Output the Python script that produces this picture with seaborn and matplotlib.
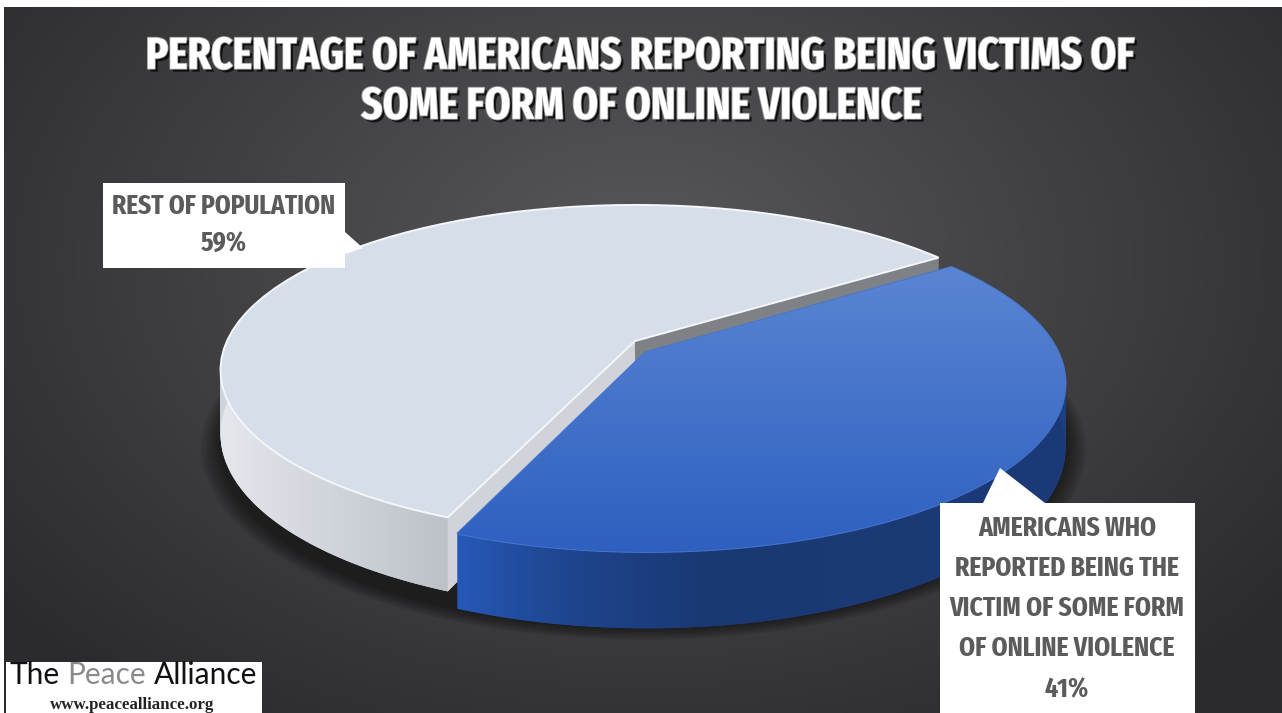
import numpy as np
import matplotlib
matplotlib.use("Agg")
import matplotlib.pyplot as plt
import matplotlib.patheffects as pe
from matplotlib.patches import Polygon, Rectangle, Ellipse
from matplotlib.transforms import Transform
from matplotlib.colors import to_rgb
from matplotlib import font_manager
import seaborn as sns

# ---------------- data ----------------
categories = ["REST OF POPULATION",
              "AMERICANS WHO REPORTED BEING THE VICTIM OF SOME FORM OF ONLINE VIOLENCE"]
values = [59, 41]
pct_labels = ["59%", "41%"]
rest_label_lines = ["REST OF POPULATION"]
victim_label_lines = ["AMERICANS WHO", "REPORTED BEING THE", "VICTIM OF SOME FORM", "OF ONLINE VIOLENCE"]
title_lines = ["PERCENTAGE OF AMERICANS REPORTING BEING VICTIMS OF",
               "SOME FORM OF ONLINE VIOLENCE"]
logo_words = ["The", "Peace", "Alliance"]
logo_url = "www.peacealliance.org"

sns.set_theme(style="white")


def pick(fams):
    for f in fams:
        try:
            font_manager.findfont(font_manager.FontProperties(family=f), fallback_to_default=False)
            return f
        except Exception:
            pass
    return "DejaVu Sans"


def find_condensed_bold():
    best, best_score = None, -1e9
    for f in font_manager.fontManager.ttflist:
        fn = (f.fname + " " + f.name).lower().replace(" ", "").replace("-", "").replace("_", "")
        if "italic" in fn or "oblique" in fn:
            continue
        if "extracondensed" in fn or "ultracondensed" in fn:
            lvl = 3
        elif "semicondensed" in fn:
            lvl = 1
        elif "condensed" in fn or "narrow" in fn:
            lvl = 2
        else:
            continue
        w = f.weight
        if isinstance(w, str):
            w = font_manager.weight_dict.get(w, 400)
        score = lvl * 100 - abs(w - 700) / 2
        if score > best_score:
            best, best_score = f, score
    if best is None:
        return font_manager.FontProperties(family="DejaVu Sans", weight="bold")
    return font_manager.FontProperties(fname=best.fname)


FP = find_condensed_bold()
LOGO = pick(["Lato", "Open Sans", "DejaVu Sans"])
SERIF = pick(["Liberation Serif", "DejaVu Serif"])
plt.rcParams["font.family"] = ["DejaVu Sans"]

W, H = 1282, 713
fig = plt.figure(figsize=(W / 100, H / 100), dpi=100)
renderer = fig.canvas.get_renderer()

# ---------------- background ----------------
bg = fig.add_axes([0, 0, 1, 1])
bg.set_axis_off()
yy, xx = np.mgrid[0:H, 0:W]
r = np.clip(np.sqrt(((xx - 640) / 820.0) ** 2 + ((yy - 260) / 560.0) ** 2), 0, 1)
c0 = np.array(to_rgb("#58585a"))
c1 = np.array(to_rgb("#2b2b2d"))
img = c0[None, None, :] * (1 - r[..., None]) + c1[None, None, :] * r[..., None]
bg.imshow(img, extent=(0, W, H, 0), aspect="auto", interpolation="bilinear")
bg.set_xlim(0, W)
bg.set_ylim(H, 0)


# ---------------- perspective pie ----------------
class Persp(Transform):
    """Ground plane (unit-radius pie) -> screen pixels with perspective."""
    input_dims = 2
    output_dims = 2
    is_separable = False
    has_inverse = False

    def __init__(self, dz=0.0, X0=635.0, Y0=341.0, Sx=408.0, Sy=160.0, p=0.176):
        super().__init__()
        self._dz, self._X0, self._Y0, self._Sx, self._Sy, self._p = dz, X0, Y0, Sx, Sy, p

    def transform_non_affine(self, values):
        v = np.asarray(values, dtype=float)
        shp = v.shape
        v = v.reshape(-1, 2)
        w = 1.0 + self._p * v[:, 1]
        x = self._X0 + self._Sx * v[:, 0] / w
        y = self._Y0 - self._Sy * v[:, 1] / w + self._dz / w
        return np.column_stack([x, y]).reshape(shp)


ax = fig.add_axes([0, 0, 1, 1])
D0 = 62.0
start = 35
blue_off = (0.025, -0.07)
light_top, light_side, gray_face, light_face2 = "#d6deea", "#cfd3da", "#7e8185", "#d0d4da"
blue_top, blue_side = "#3366c4", "#1d4082"

# soft shadow under the pie
for i in range(8):
    e = Ellipse((0.02, -0.03), 2.12 - i * 0.012, 2.12 - i * 0.012,
                facecolor="black", alpha=0.07, linewidth=0, zorder=0.5)
    ax.add_patch(e)
    e.set_transform(Persp(dz=D0 + 5) + ax.transData)

# extruded layers (bottom first)
for k in np.arange(D0, 0, -1.0):
    wl, _ = ax.pie(values, startangle=start, radius=1,
                   colors=[light_side, blue_side], wedgeprops=dict(linewidth=0))
    wl[1].set_center(blue_off)
    tr = Persp(dz=k) + ax.transData
    for wdg, z in zip(wl, (1, 4)):
        wdg.set_transform(tr)
        wdg.set_zorder(z)

# top faces
wt, _ = ax.pie(values, startangle=start, radius=1,
               colors=[light_top, blue_top], wedgeprops=dict(linewidth=1.4))
wt[1].set_center(blue_off)
top_tr = Persp(dz=0) + ax.transData
for wdg in wt:
    wdg.set_transform(top_tr)
wt[0].set_edgecolor("#f4f6fa")
wt[0].set_zorder(3)
wt[1].set_edgecolor("#4676cf")
wt[1].set_zorder(5)

P_top = Persp(dz=0)
P_bot = Persp(dz=D0)


def radial_face(center, theta):
    c = np.array(center, float)
    e = c + [np.cos(np.deg2rad(theta)), np.sin(np.deg2rad(theta))]
    pts = np.array([c, e])
    return np.vstack([P_top.transform(pts), P_bot.transform(pts)[::-1]])


# cut faces of the light slice
ax.add_patch(Polygon(radial_face((0, 0), wt[0].theta1), closed=True,
                     facecolor=gray_face, edgecolor="none", zorder=2))
ax.add_patch(Polygon(radial_face((0, 0), wt[0].theta2), closed=True,
                     facecolor=light_face2, edgecolor="none", zorder=2))


def side_band(center, t1, t2):
    th = np.deg2rad(np.linspace(t1, t2, 200))
    pts = np.column_stack([center[0] + np.cos(th), center[1] + np.sin(th)])
    return np.vstack([P_top.transform(pts), P_bot.transform(pts)[::-1]])


def hgrad(xs, cols, x0, x1, y0, y1, z, clip):
    xg = np.linspace(x0, x1, 400)
    rgb = np.array([to_rgb(c) for c in cols])
    arr = np.stack([np.interp(xg, xs, rgb[:, j]) for j in range(3)], axis=-1)[None, :, :]
    im = ax.imshow(arr, extent=(x0, x1, y1, y0), aspect="auto", zorder=z, interpolation="bilinear")
    im.set_clip_path(clip)


band_l = Polygon(side_band((0, 0), wt[0].theta1, wt[0].theta2), closed=True,
                 facecolor="none", edgecolor="none")
ax.add_patch(band_l)
hgrad([210, 300, 470], ["#e6e9ee", "#d6dae0", "#b9bec5"], 200, 500, 180, 620, 1.5, band_l)

band_b = Polygon(side_band(blue_off, wt[1].theta1, wt[1].theta2), closed=True,
                 facecolor="none", edgecolor="none")
ax.add_patch(band_b)
hgrad([455, 560, 700, 1070], ["#2659b8", "#1f4690", "#1a3974", "#1b3a77"],
      440, 1090, 250, 660, 4.5, band_b)

# blue top gradient
yg = np.linspace(0, 1, 256)[:, None]
ctop = np.array(to_rgb("#5b86d3"))
cbot = np.array(to_rgb("#2a5cbe"))
arr = ctop[None, None, :] * (1 - yg[..., None]) + cbot[None, None, :] * yg[..., None]
im = ax.imshow(arr, extent=(440, 1090, 580, 260), aspect="auto", zorder=5.5, interpolation="bilinear")
im.set_clip_path(wt[1])

ax.set_aspect("auto")
ax.set_xlim(0, W)
ax.set_ylim(H, 0)
ax.set_axis_off()
ax.set_position([0, 0, 1, 1])

# ---------------- overlay (pixel coordinates) ----------------
ov = fig.add_axes([0, 0, 1, 1])
ov.set_xlim(0, W)
ov.set_ylim(H, 0)
ov.set_axis_off()
ov.patch.set_alpha(0)

ov.add_patch(Rectangle((0, 0), W, 7, facecolor="white", edgecolor="none", zorder=1))
ov.add_patch(Rectangle((0, 0), 4, H, facecolor="white", edgecolor="none", zorder=1))


def fit_text(x, y, txt, target_w, **kw):
    t = ov.text(x, y, txt, fontproperties=FP, **kw)
    t.set_fontsize(20)
    bb = t.get_window_extent(renderer)
    t.set_fontsize(20 * target_w / bb.width)
    return t


def cond_text(x, y, txt, fs, **kw):
    t = ov.text(x, y, txt, fontproperties=FP, **kw)
    t.set_fontsize(fs)
    return t


shadow = [pe.SimplePatchShadow(offset=(2, -2), shadow_rgbFace="black", alpha=0.75),
          pe.withStroke(linewidth=1.2, foreground="#9a9a9a")]
t1 = fit_text(641, 57, title_lines[0], 987, ha="center", va="center", color="white", zorder=5)
t1.set_path_effects(shadow)
t2 = cond_text(642, 107, title_lines[1], t1.get_fontsize(), ha="center", va="center",
               color="white", zorder=5)
t2.set_path_effects(shadow)

label_col = "#5b5b5b"
# box 1
ov.add_patch(Polygon([(103, 183), (345, 183), (345, 232), (363, 248), (345, 254),
                      (345, 268), (103, 268)],
                     closed=True, facecolor="white", edgecolor="none", zorder=3))
tl = fit_text(224, 206, rest_label_lines[0], 223, ha="center", va="center", color=label_col, zorder=5)
cond_text(224, 244, pct_labels[0], tl.get_fontsize(), ha="center", va="center",
          color=label_col, zorder=5)

# box 2
ov.add_patch(Polygon([(940, 503), (983, 503), (1000, 468), (1045, 503), (1195, 503),
                      (1195, H), (940, H)],
                     closed=True, facecolor="white", edgecolor="none", zorder=3))
tv = fit_text(1067, 608, victim_label_lines[2], 235, ha="center", va="center",
              color=label_col, zorder=5)
fs_lab = tv.get_fontsize()
for yv, line in zip([528, 568, 648], [victim_label_lines[0], victim_label_lines[1], victim_label_lines[3]]):
    cond_text(1067, yv, line, fs_lab, ha="center", va="center", color=label_col, zorder=5)
cond_text(1067, 690, pct_labels[1], fs_lab, ha="center", va="center", color=label_col, zorder=5)

# logo
ov.add_patch(Rectangle((6, 662), 256, H - 662, facecolor="white", edgecolor="none", zorder=3))
probe = ov.text(0, 0, " ".join(logo_words), family=LOGO, fontsize=20)
fs_logo = 20 * 248 / probe.get_window_extent(renderer).width
probe.remove()
sp = ov.text(0, 0, "a a", family=LOGO, fontsize=fs_logo)
sp2 = ov.text(0, 0, "aa", family=LOGO, fontsize=fs_logo)
space_w = sp.get_window_extent(renderer).width - sp2.get_window_extent(renderer).width
sp.remove()
sp2.remove()
xw = 10
for word, col in zip(logo_words, ["#111111", "#8a8a8a", "#111111"]):
    t = ov.text(xw, 675, word, family=LOGO, fontsize=fs_logo, color=col,
                ha="left", va="center", zorder=5)
    xw += t.get_window_extent(renderer).width + space_w
tu = ov.text(0, 0, logo_url, family=SERIF, fontweight="bold", fontsize=10)
fs_url = 10 * 165 / tu.get_window_extent(renderer).width
tu.remove()
ov.text(132, 705, logo_url, family=SERIF, fontweight="bold", fontsize=fs_url,
        color="#222222", ha="center", va="center", zorder=5)

fig.savefig("out.png", dpi=100)
